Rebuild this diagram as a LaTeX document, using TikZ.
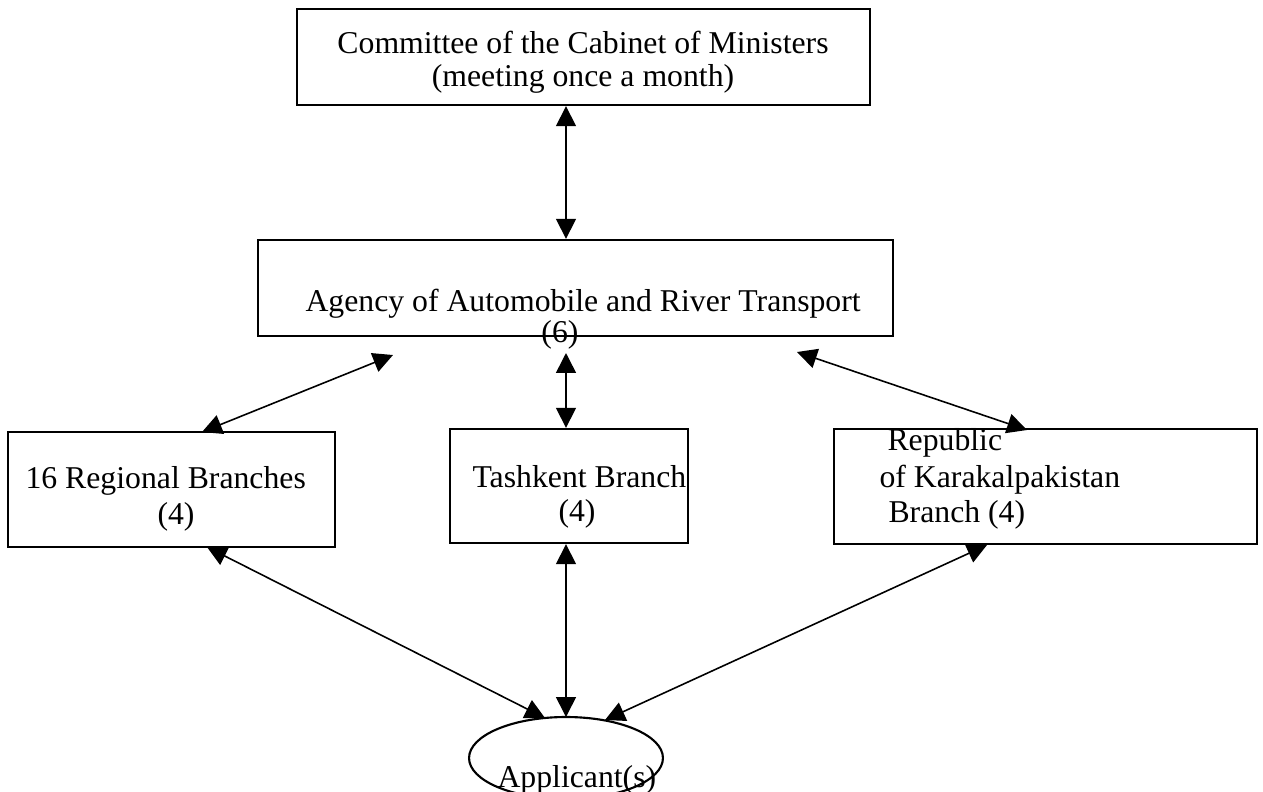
\documentclass[tikz,border=0pt]{standalone}
\usepackage{fontspec}
\setmainfont{Liberation Serif}
\usetikzlibrary{arrows.meta,fit,shapes.geometric}
\begin{document}
\begin{tikzpicture}[x=0.378pt,y=-0.378pt,
  box/.style={draw,line width=0.9pt,inner sep=0pt,rectangle},
  txt/.style={inner sep=0pt,font=\fontsize{12}{14}\selectfont},
  dbl/.style={line width=0.6pt,{Triangle[length=7.5pt,width=7.5pt]}-{Triangle[length=7.5pt,width=7.5pt]}}]
\useasboundingbox[fill=white] (0,0) rectangle (1263,791);
% boxes
\node[box,fit={(297,9) (870,105)}] (top) {};
\node[box,fit={(258,240) (893,336)}] (agency) {};
\node[box,fit={(8,432) (335,547)}] (reg) {};
\node[box,fit={(450,429) (688,543)}] (tash) {};
\node[box,fit={(834,429) (1257,544)}] (kara) {};
\node[draw,line width=0.8pt,ellipse,inner sep=0pt,minimum width=73.3pt,minimum height=31pt] (app) at (566,758) {};
% texts
\node[txt,anchor=base] (t1) at (583,53) {Committee of the Cabinet of Ministers};
\node[txt,anchor=base] (t2) at (583,86) {(meeting once a month)};
\node[txt,anchor=base west] (t3) at (305,311) {Agency of Automobile and River Transport};
\node[txt,anchor=base] (t4) at (560,342) {(6)};
\node[txt,anchor=base west] (t5) at (25,488) {16 Regional Branches};
\node[txt,anchor=base west] (t6) at (157,524) {(4)};
\node[txt,anchor=base west] (t7) at (472,487) {Tashkent Branch};
\node[txt,anchor=base west] (t8) at (558,521) {(4)};
\node[txt,anchor=base west] (t9) at (887,450) {Republic};
\node[txt,anchor=base west] (t10) at (879,487) {of Karakalpakistan};
\node[txt,anchor=base west] (t11) at (888,522) {Branch (4)};
\node[txt,anchor=base west] (t12) at (497,787) {Applicant(s)};
% free ends
\coordinate (aL) at (393,355);
\coordinate (aM) at (566,353);
\coordinate (aR) at (797,352);
\coordinate (regT) at (202,432);
\coordinate (karaT) at (1027,430);
\coordinate (regB) at (207,547);
\coordinate (karaB) at (987,545);
\coordinate (appL) at (545,718);
\coordinate (appM) at (566,717);
\coordinate (appR) at (605,720);
% connectors
\draw[dbl] (top.south -| app.center) -- (agency.north -| app.center);
\draw[dbl] (aL) -- (regT);
\draw[dbl] (aM) -- (tash.north -| app.center);
\draw[dbl] (aR) -- (karaT);
\draw[dbl] (regB) -- (appL);
\draw[dbl] (tash.south -| app.center) -- (appM);
\draw[dbl] (karaB) -- (appR);
\end{tikzpicture}
\end{document}
